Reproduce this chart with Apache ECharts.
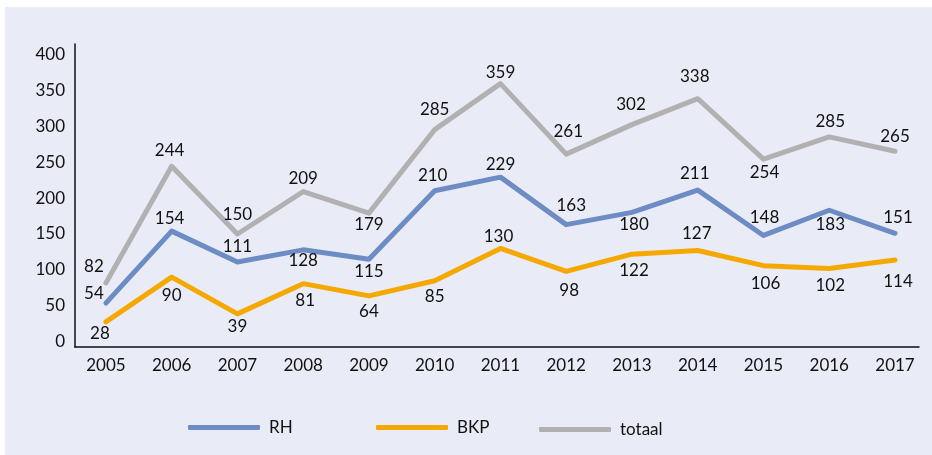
<!DOCTYPE html>
<html>
<head>
<meta charset="utf-8">
<script src="https://cdn.jsdelivr.net/npm/echarts@6/dist/echarts.min.js"></script>
<style>
    body { margin: 0; background: #fff; }
    #panel { position: absolute; left: 5px; top: 7px; width: 927px; height: 448px; background: #e9ebf6; }
    #chart { position: absolute; left: 0; top: 0; width: 932px; height: 455px; }
</style>
</head>
<body>
<div id="panel"></div>
<div id="chart"></div>
<script>
// === DATA ===
const years = [2005, 2006, 2007, 2008, 2009, 2010, 2011, 2012, 2013, 2014, 2015, 2016, 2017];
const rh = [54, 154, 111, 128, 115, 210, 229, 163, 180, 211, 148, 183, 151];
const bkp = [28, 90, 39, 81, 64, 85, 130, 98, 122, 127, 106, 102, 114];
// the grey line is drawn at 295 in 2010 while its label says 285
const totaal = [82, 244, 150, 209, 179, 295, 359, 261, 302, 338, 254, 285, 265];
const totaalLabels = [82, 244, 150, 209, 179, 285, 359, 261, 302, 338, 254, 285, 265];
const yTicks = [0, 50, 100, 150, 200, 250, 300, 350, 400];

// label offsets from each point (dx, dy)
const rhOffsets = [[-12, -10], [-2, -13], [0, -16], [0, 11], [0, 12], [-2, -15], [0, -13],
    [5, -19], [2, 12], [-3, -17], [1, -18], [1, 14], [3, -16]];
const bkpOffsets = [[-6, 12], [0, 18], [0, 13], [2, 17], [0, 16], [0, 16], [-2, -12],
    [3, 19], [2, 16], [-1, -17], [2, 18], [1, 17], [3, 22]];
const totaalOffsets = [[-12, -16], [-2, -16], [0, -19], [0, -13], [0, 11], [0, -20], [0, -11],
    [2, -23], [-1, -20], [-3, -22], [1, 13], [1, -15], [0, -15]];

const font = 'Lato';
const fontSize = 17;

function buildData(values, offsets, labels) {
    return values.map((v, i) => ({
        value: [years[i], v],
        label: {
            offset: offsets[i],
            formatter: String(labels ? labels[i] : v)
        }
    }));
}

function lineSeries(name, color, values, offsets, labels) {
    return {
        name: name,
        type: 'line',
        data: buildData(values, offsets, labels),
        symbol: 'circle',
        symbolSize: 1,
        showSymbol: true,
        itemStyle: { color: color },
        lineStyle: { color: color, width: 5, cap: 'round', join: 'round' },
        label: {
            show: true,
            position: 'inside',
            color: '#111',
            fontFamily: font,
            fontSize: fontSize
        },
        emphasis: { disabled: true },
        animation: false
    };
}

function legendAt(name, left, top) {
    return {
        data: [name],
        left: left,
        top: top,
        icon: 'roundRect',
        itemWidth: 72,
        itemHeight: 5,
        textStyle: { color: '#111', fontFamily: font, fontSize: fontSize, padding: [0, 0, 0, 4] }
    };
}

const chartDom = document.getElementById('chart');
const chart = echarts.init(chartDom);
const option = {
    backgroundColor: 'transparent',
    grid: { left: 75, right: 13, top: 44, bottom: 108 },
    legend: [legendAt('RH', 183, 414), legendAt('BKP', 371, 414), legendAt('totaal', 534, 416)],
    xAxis: {
        type: 'value',
        min: 2004.53,
        max: 2017.365,
        splitLine: { show: false },
        axisTick: { show: false },
        axisLine: { onZero: false, lineStyle: { color: '#111', width: 1.5 } },
        axisLabel: {
            customValues: years,
            formatter: v => String(Math.round(v)),
            margin: 10,
            color: '#111',
            fontFamily: font,
            fontSize: fontSize
        }
    },
    yAxis: {
        type: 'value',
        min: -7,
        max: 414,
        splitLine: { show: false },
        axisTick: { show: false },
        axisLine: { show: true, onZero: false, lineStyle: { color: '#111', width: 1.5 } },
        axisLabel: {
            customValues: yTicks,
            margin: 10,
            color: '#111',
            fontFamily: font,
            fontSize: fontSize
        }
    },
    series: [
        lineSeries('RH', '#6d8cc4', rh, rhOffsets),
        lineSeries('BKP', '#f5a800', bkp, bkpOffsets),
        lineSeries('totaal', '#b1b1b1', totaal, totaalOffsets, totaalLabels)
    ]
};
chart.setOption(option);
window.addEventListener('resize', () => chart.resize());
</script>
</body>
</html>
